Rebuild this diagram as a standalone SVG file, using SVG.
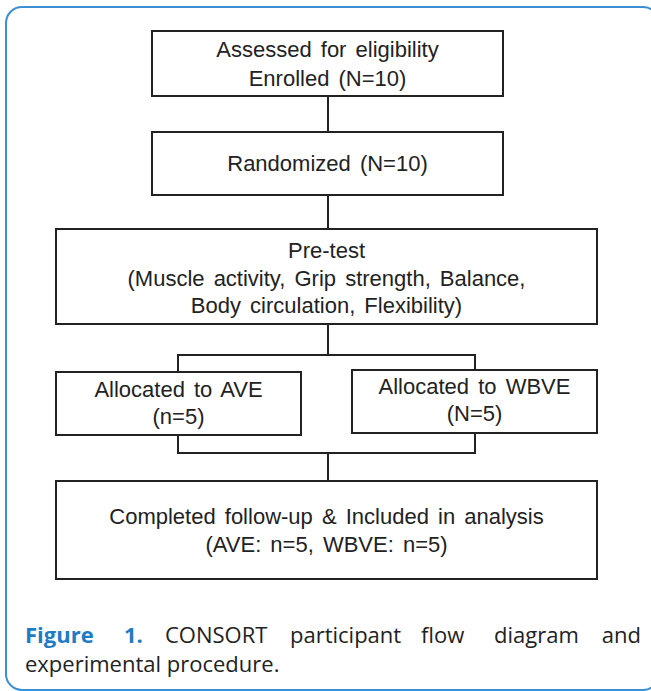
<svg xmlns="http://www.w3.org/2000/svg" width="651" height="691" viewBox="0 0 651 691">
<style>
.box{fill:#fff;stroke:#222;stroke-width:2}
.t{font-family:"Liberation Sans",Arial,sans-serif;font-size:22px;fill:#222;text-anchor:middle;word-spacing:3px}
.conn{fill:none;stroke:#222;stroke-width:2}
.cap{font-family:"Open Sans","Liberation Sans",sans-serif;font-size:22px;fill:#222}
.capb{font-family:"Open Sans","Liberation Sans",sans-serif;font-size:22px;fill:#1f7cc3;font-weight:bold}
</style>
<rect x="6" y="7" width="653" height="683" rx="16" fill="#fff" stroke="#3b8fd2" stroke-width="2"/>
<g id="connectors">
<path class="conn" d="M328 96V132M328 195V229M328 324V355M178 372V355H475V370"/>
<path class="conn" d="M178 435V453H475V433M328 453V482"/>
</g>
<g id="n1">
<rect class="box" x="152" y="31" width="351" height="65"/>
<text class="t" x="327.5" y="57">Assessed for eligibility</text>
<text class="t" x="327.5" y="86">Enrolled (N=10)</text>
</g>
<g id="n2">
<rect class="box" x="152" y="132" width="351" height="63"/>
<text class="t" x="327.5" y="171">Randomized (N=10)</text>
</g>
<g id="n3">
<rect class="box" x="56" y="229" width="541" height="95"/>
<text class="t" x="326.5" y="258">Pre-test</text>
<text class="t" x="326.5" y="286">(Muscle activity, Grip strength, Balance,</text>
<text class="t" x="326.5" y="313">Body circulation, Flexibility)</text>
</g>
<g id="n4">
<rect class="box" x="56" y="372" width="245" height="63"/>
<text class="t" x="178.5" y="397">Allocated to AVE</text>
<text class="t" x="178.5" y="424">(n=5)</text>
</g>
<g id="n5">
<rect class="box" x="352" y="370" width="245" height="63"/>
<text class="t" x="474.5" y="394">Allocated to WBVE</text>
<text class="t" x="474.5" y="421">(N=5)</text>
</g>
<g id="n6">
<rect class="box" x="56" y="481" width="541" height="98"/>
<text class="t" x="326.5" y="524">Completed follow-up &amp; Included in analysis</text>
<text class="t" x="326.5" y="552">(AVE: n=5, WBVE: n=5)</text>
</g>
<g id="caption">
<text class="capb" x="25" y="643">Figure</text>
<text class="capb" x="124" y="643">1.</text>
<text class="cap" x="165" y="643">CONSORT</text>
<text class="cap" x="290" y="643">participant</text>
<text class="cap" x="421" y="643">flow</text>
<text class="cap" x="494" y="643">diagram</text>
<text class="cap" x="641" y="643" text-anchor="end">and</text>
<text class="cap" x="25" y="672">experimental procedure.</text>
</g>
</svg>
